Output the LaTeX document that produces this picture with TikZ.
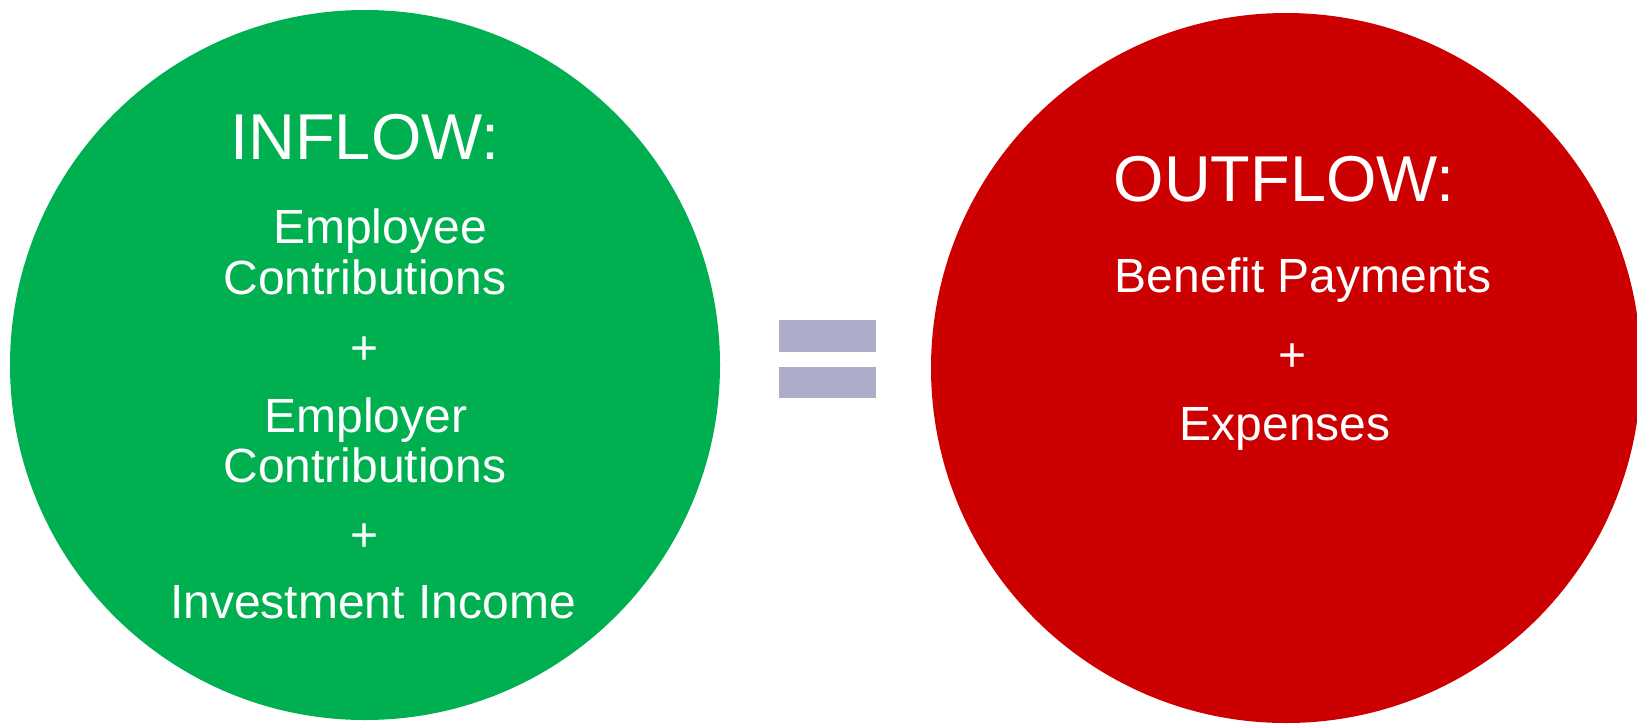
\documentclass[tikz,border=0pt]{standalone}
\usepackage{fontspec}
\setmainfont{Liberation Sans}
\usepackage{tikz}

\definecolor{inflowgreen}{HTML}{00B050}
\definecolor{outflowred}{HTML}{CC0000}
\definecolor{eqgray}{RGB}{173,173,202}

\begin{document}
\begin{tikzpicture}[x=0.5pt,y=-0.5pt,
    flow/.style={circle,inner sep=0pt,minimum size=355pt},
    head/.style={anchor=base,text=white,font=\fontsize{32.4}{38}\selectfont},
    item/.style={anchor=base,text=white,font=\fontsize{24}{28}\selectfont}]
  \useasboundingbox (0,0) rectangle (1637,724);
  \node[flow,fill=inflowgreen] (inflow) at (365,365) {};
  \node[flow,fill=outflowred] (outflow) at (1286,368) {};
  \fill[eqgray] (779,320) rectangle (876,352); \fill[eqgray] (779,367) rectangle (876,398);
  \node[head] (intitle) at (365,159) {INFLOW:};
  \node[item] (empee) at (380,243) {Employee};
  \node[item] (empeec) at (365,294) {Contributions};
  \node[item] (plusa) at (365,364) {+};
  \node[item] (emper) at (366,432) {Employer};
  \node[item] (emperc) at (365,482) {Contributions};
  \node[item] (plusb) at (365,551) {+};
  \node[item] (invest) at (373,618) {Investment Income};
  \node[head] (outtitle) at (1284,201) {OUTFLOW:};
  \node[item] (benefit) at (1303,292) {Benefit Payments};
  \node[item] (plusc) at (1292,371) {+};
  \node[item] (expense) at (1285,440) {Expenses};
\end{tikzpicture}
\end{document}
